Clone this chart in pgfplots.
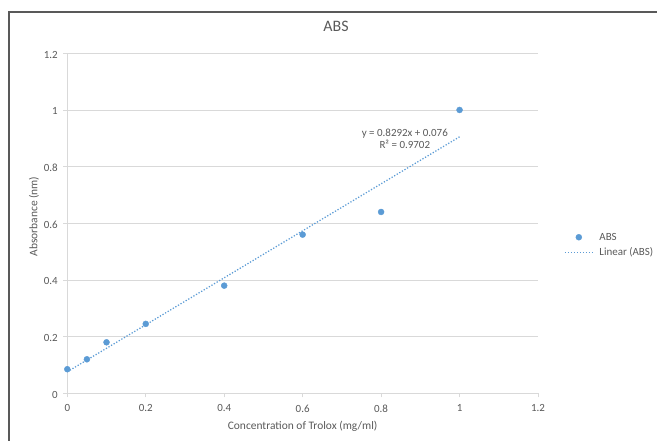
\documentclass[border=0pt]{standalone}
\usepackage{fontspec}
\setmainfont{Carlito}
\usepackage{pgfplots}
\pgfplotsset{compat=1.18}
\definecolor{xlblue}{HTML}{5B9BD5}
\definecolor{xlgrid}{HTML}{D9D9D9}
\definecolor{xltext}{HTML}{595959}
\definecolor{xlframe}{HTML}{595959}
\pgfplotsset{
    marklegend/.style={legend image code/.code={
        \path[draw=none] (0bp,0bp) -- (28bp,0bp);
        \draw[##1, only marks] plot coordinates {(14bp,0bp)};}},
    linelegend/.style={legend image code/.code={
        \draw[##1] (0bp,0bp) -- (28bp,0bp);}},
}

\begin{document}
\begin{tikzpicture}
\begin{axis}[
    scale only axis,
    width=470.7bp, height=340bp,
    xmin=0, xmax=1.2, ymin=0, ymax=1.2,
    xtick={0,0.2,0.4,0.6,0.8,1,1.2},
    ytick={0,0.2,0.4,0.6,0.8,1,1.2},
    axis x line*=bottom, axis y line*=left,
    axis line style={xlgrid, line width=0.75bp, -},
    tick align=outside,
    major tick length=4bp,
    tick style={xlgrid, line width=0.75bp},
    ymajorgrids,
    grid style={xlgrid, line width=0.75bp},
    clip=false,
    /pgf/number format/assume math mode=true,
    tick label style={font=\fontsize{11}{13}\selectfont, text=xltext},
    xticklabel style={yshift=-4bp},
    yticklabel style={xshift=-2bp, yshift=-1.5bp},
    title={ABS},
    title style={at={(rel axis cs:0.571,1.062)}, anchor=center,
        font=\fontsize{16}{19}\selectfont, text=xltext},
    xlabel={Concentration of Trolox (mg/ml)},
    xlabel style={at={(rel axis cs:0.5,-0.0962)}, anchor=center,
        font=\fontsize{11.5}{13}\selectfont, text=xltext},
    ylabel={Absorbance (nm)},
    ylabel style={at={(rel axis cs:-0.0707,0.52)}, anchor=center,
        font=\fontsize{11.5}{13}\selectfont, text=xltext},
    legend cell align=left,
    legend style={at={(rel axis cs:1.0552,0.4362)}, anchor=west,
        draw=none, fill=none, inner sep=0pt,
        font=\fontsize{11}{13}\selectfont, text=xltext,
        nodes={inner sep=0pt}, row sep=6bp, column sep=6bp},
]
\addplot[only marks, mark=*, mark size=3bp, color=xlblue, marklegend]
    coordinates {
    (0,0.085) (0.05,0.12) (0.1,0.18) (0.2,0.245)
    (0.4,0.38) (0.6,0.56) (0.8,0.64) (1,1.0)
};
\addlegendentry{ABS}
% Excel linear trendline y = 0.8292x + 0.076 over the data range
\addplot[xlblue, line width=1.25bp, dash pattern=on 1.25bp off 1.75bp, linelegend]
    coordinates {(0,0.076) (1,0.9052)};
\addlegendentry{Linear (ABS)}

\node[align=center, font=\fontsize{11}{12.3}\selectfont, text=xltext]
    at (rel axis cs:0.717,0.748) {y = 0.8292x + 0.076\\R² = 0.9702};
\end{axis}
\draw[xlframe, line width=2bp] (-57.8bp,-60bp) -- (-57.8bp,380.8bp) -- (600bp,380.8bp);
\pgfresetboundingbox
\useasboundingbox (-67.3bp,-47.7bp) rectangle (589.7bp,393.3bp);
\end{tikzpicture}
\end{document}
